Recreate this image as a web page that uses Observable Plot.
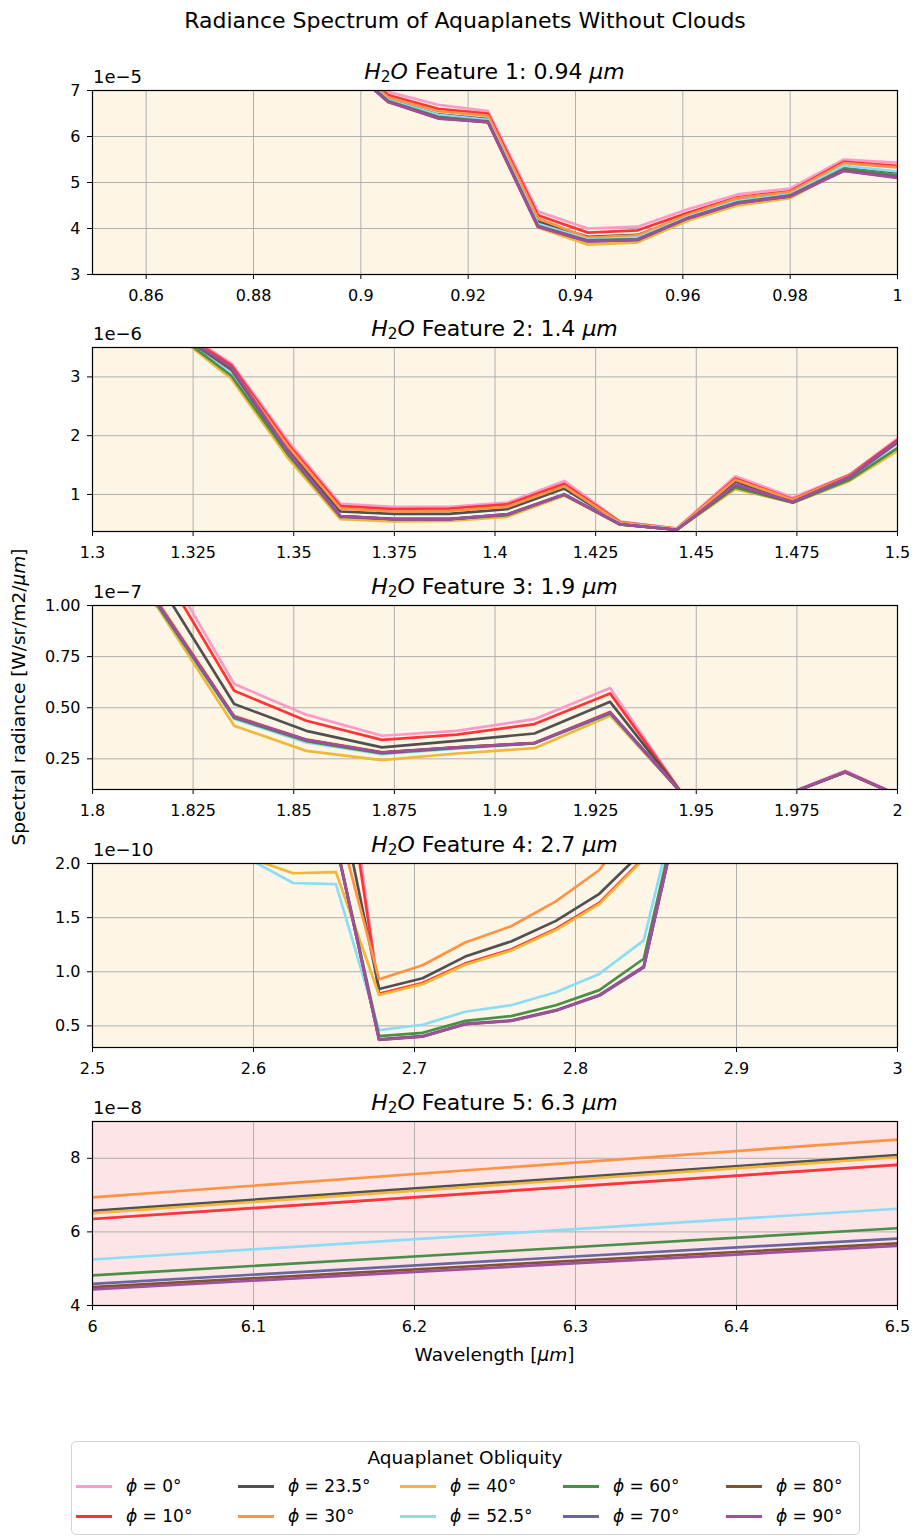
<!DOCTYPE html>
<html><head><meta charset="utf-8">
<script src="https://cdn.jsdelivr.net/npm/d3@7"></script>
<script src="https://cdn.jsdelivr.net/npm/@observablehq/plot@0.6"></script>
<style>
body{margin:0;background:#fff;font-family:"DejaVu Sans",sans-serif;color:#000;}
#root{position:relative;width:915px;height:1536px;overflow:hidden;}
.abs{position:absolute;white-space:nowrap;}
.ptitle{font-size:22px;transform:translate(-50%,-50%);}
.off{font-size:18px;}
sub{font-size:0.7em;vertical-align:-0.25em;line-height:0;}
</style></head><body><div id="root"></div>
<script>
// ---------- data ----------
const obliquities = [0, 10, 23.5, 30, 40, 52.5, 60, 70, 80, 90];
const lineColors = ["#ff9ac8", "#ff3535", "#505050", "#fe9345", "#f0b838", "#8cdcf5", "#4a8f48", "#6a66a4", "#7f5530", "#a04ea0"];

// Feature 1 (0.94 µm), values ×1e-5
const wave1 = [0.8958, 0.9051, 0.9144, 0.9237, 0.933, 0.9423, 0.9516, 0.9609, 0.9702, 0.980, 0.990, 1.0];
const feature1 = [
  [7.90, 6.97, 6.69, 6.55, 4.37, 4.00, 4.04, 4.42, 4.74, 4.87, 5.50, 5.43],
  [7.85, 6.90, 6.60, 6.50, 4.29, 3.91, 3.96, 4.34, 4.68, 4.81, 5.45, 5.36],
  [7.75, 6.80, 6.48, 6.38, 4.15, 3.82, 3.86, 4.27, 4.62, 4.76, 5.35, 5.22],
  [7.80, 6.85, 6.55, 6.45, 4.22, 3.80, 3.85, 4.30, 4.66, 4.79, 5.42, 5.33],
  [7.70, 6.76, 6.42, 6.30, 4.02, 3.65, 3.70, 4.17, 4.50, 4.66, 5.28, 5.15],
  [7.75, 6.79, 6.47, 6.36, 4.10, 3.76, 3.80, 4.25, 4.60, 4.74, 5.36, 5.24],
  [7.72, 6.77, 6.43, 6.33, 4.06, 3.74, 3.77, 4.23, 4.57, 4.72, 5.30, 5.16],
  [7.70, 6.76, 6.41, 6.32, 4.05, 3.73, 3.76, 4.22, 4.56, 4.71, 5.27, 5.12],
  [7.70, 6.75, 6.40, 6.31, 4.04, 3.72, 3.75, 4.22, 4.55, 4.70, 5.26, 5.11],
  [7.69, 6.75, 6.39, 6.31, 4.04, 3.72, 3.75, 4.22, 4.55, 4.70, 5.25, 5.10]
];

// Feature 2 (1.4 µm), values ×1e-6
const wave2 = [1.3204, 1.3345, 1.3488, 1.3616, 1.3749, 1.3886, 1.403, 1.4172, 1.4311, 1.4452, 1.4597, 1.474, 1.4881, 1.5];
const feature2 = [
  [3.85, 3.23, 1.89, 0.84, 0.79, 0.79, 0.86, 1.23, 0.54, 0.42, 1.31, 0.95, 1.34, 1.95],
  [3.83, 3.20, 1.84, 0.80, 0.75, 0.76, 0.83, 1.18, 0.53, 0.42, 1.27, 0.92, 1.33, 1.93],
  [3.80, 3.12, 1.75, 0.71, 0.67, 0.67, 0.75, 1.10, 0.51, 0.41, 1.22, 0.89, 1.31, 1.90],
  [3.82, 3.15, 1.80, 0.76, 0.71, 0.72, 0.79, 1.14, 0.52, 0.42, 1.25, 0.91, 1.32, 1.88],
  [3.73, 2.97, 1.60, 0.58, 0.54, 0.55, 0.62, 0.98, 0.49, 0.40, 1.09, 0.86, 1.23, 1.74],
  [3.76, 3.05, 1.68, 0.63, 0.59, 0.59, 0.66, 1.01, 0.50, 0.41, 1.13, 0.87, 1.26, 1.80],
  [3.75, 3.02, 1.66, 0.62, 0.58, 0.58, 0.65, 1.00, 0.49, 0.40, 1.12, 0.86, 1.25, 1.79],
  [3.78, 3.12, 1.70, 0.63, 0.58, 0.58, 0.66, 1.00, 0.49, 0.40, 1.16, 0.87, 1.29, 1.88],
  [3.78, 3.14, 1.71, 0.63, 0.58, 0.58, 0.66, 1.00, 0.49, 0.40, 1.16, 0.87, 1.30, 1.90],
  [3.79, 3.17, 1.71, 0.63, 0.58, 0.58, 0.66, 1.00, 0.49, 0.40, 1.17, 0.87, 1.30, 1.91]
];

// Feature 3 (1.9 µm), values ×1e-7
const wave3 = [1.798, 1.8162, 1.8352, 1.8531, 1.8719, 1.8905, 1.9098, 1.9286, 1.9465, 1.9665, 1.987, 2.005];
const feature3 = [
  [1.60, 1.26, 0.616, 0.466, 0.363, 0.387, 0.444, 0.596, 0.08, 0.03, 0.192, 0.03],
  [1.55, 1.21, 0.583, 0.436, 0.343, 0.368, 0.420, 0.570, 0.08, 0.03, 0.188, 0.03],
  [1.45, 1.12, 0.518, 0.387, 0.306, 0.338, 0.374, 0.529, 0.08, 0.03, 0.186, 0.03],
  [1.35, 1.02, 0.460, 0.345, 0.283, 0.306, 0.328, 0.480, 0.08, 0.03, 0.185, 0.03],
  [1.30, 0.99, 0.412, 0.289, 0.244, 0.276, 0.302, 0.461, 0.08, 0.03, 0.183, 0.03],
  [1.33, 1.00, 0.445, 0.330, 0.273, 0.300, 0.325, 0.470, 0.08, 0.03, 0.184, 0.03],
  [1.33, 1.00, 0.450, 0.337, 0.277, 0.303, 0.326, 0.472, 0.08, 0.03, 0.184, 0.03],
  [1.34, 1.01, 0.455, 0.342, 0.280, 0.305, 0.327, 0.476, 0.08, 0.03, 0.185, 0.03],
  [1.34, 1.01, 0.456, 0.343, 0.281, 0.306, 0.327, 0.477, 0.08, 0.03, 0.185, 0.03],
  [1.34, 1.01, 0.456, 0.343, 0.281, 0.306, 0.327, 0.477, 0.08, 0.03, 0.186, 0.03]
];

// Feature 4 (2.7 µm), values ×1e-10
const wave4 = [2.5975, 2.6246, 2.6512, 2.678, 2.705, 2.7315, 2.760, 2.7878, 2.8148, 2.8424, 2.870];
const feature4 = [
  [3.60, 3.70, 3.74, 0.795, 0.895, 1.075, 1.205, 1.395, 1.635, 2.05, 3.10],
  [3.50, 3.50, 3.48, 0.795, 0.895, 1.075, 1.205, 1.395, 1.635, 2.05, 3.10],
  [2.80, 2.80, 2.77, 0.84, 0.94, 1.14, 1.28, 1.47, 1.72, 2.12, 3.20],
  [2.45, 2.45, 2.44, 0.93, 1.06, 1.27, 1.42, 1.65, 1.94, 2.50, 3.30],
  [2.05, 1.91, 1.92, 0.785, 0.885, 1.065, 1.195, 1.385, 1.625, 2.04, 3.10],
  [2.04, 1.82, 1.81, 0.46, 0.51, 0.63, 0.69, 0.81, 0.98, 1.29, 2.98],
  [2.20, 2.20, 2.20, 0.405, 0.436, 0.546, 0.59, 0.69, 0.83, 1.12, 2.90],
  [2.20, 2.20, 2.19, 0.375, 0.405, 0.52, 0.55, 0.645, 0.785, 1.05, 2.85],
  [2.20, 2.20, 2.19, 0.372, 0.402, 0.515, 0.548, 0.642, 0.78, 1.04, 2.85],
  [2.20, 2.20, 2.19, 0.37, 0.40, 0.515, 0.545, 0.64, 0.78, 1.04, 2.85]
];

// Feature 5 (6.3 µm), values ×1e-8
const wave5 = [6.0, 6.25, 6.5];
const feature5 = [
  [6.35, 7.09, 7.82],
  [6.35, 7.09, 7.82],
  [6.57, 7.33, 8.09],
  [6.94, 7.73, 8.51],
  [6.51, 7.27, 8.03],
  [5.25, 5.94, 6.63],
  [4.82, 5.46, 6.10],
  [4.59, 5.21, 5.82],
  [4.50, 5.10, 5.69],
  [4.44, 5.03, 5.62]
];

const xTicks1 = [0.86, 0.88, 0.9, 0.92, 0.94, 0.96, 0.98, 1];
const yTicks1 = [3, 4, 5, 6, 7];
const xTicks2 = [1.3, 1.325, 1.35, 1.375, 1.4, 1.425, 1.45, 1.475, 1.5];
const yTicks2 = [1, 2, 3];
const xTicks3 = [1.8, 1.825, 1.85, 1.875, 1.9, 1.925, 1.95, 1.975, 2];
const yTicks3 = [0.25, 0.5, 0.75, 1.0];
const xTicks4 = [2.5, 2.6, 2.7, 2.8, 2.9, 3];
const yTicks4 = [0.5, 1.0, 1.5, 2.0];
const xTicks5 = [6, 6.1, 6.2, 6.3, 6.4, 6.5];
const yTicks5 = [4, 6, 8];

const panelTitles = ["1: 0.94", "2: 1.4", "3: 1.9", "4: 2.7", "5: 6.3"];
const offsets = ["1e\u22125", "1e\u22126", "1e\u22127", "1e\u221210", "1e\u22128"];

// ---------- drawing ----------
const root = document.getElementById("root");
const L = 92, R = 897, MT = 20, MB = 30, PH = 184;
const panels = [
  {top: 90, wave: wave1, vals: feature1, xd: [0.85, 1.0], yd: [3, 7], xt: xTicks1, yt: yTicks1, yf: d => String(d), bg: "#fdf5e6"},
  {top: 347, wave: wave2, vals: feature2, xd: [1.3, 1.5], yd: [0.37, 3.5], xt: xTicks2, yt: yTicks2, yf: d => String(d), bg: "#fdf5e6"},
  {top: 605, wave: wave3, vals: feature3, xd: [1.8, 2.0], yd: [0.1, 1.0], xt: xTicks3, yt: yTicks3, yf: d3.format(".2f"), bg: "#fdf5e6"},
  {top: 863, wave: wave4, vals: feature4, xd: [2.5, 3.0], yd: [0.3, 2.0], xt: xTicks4, yt: yTicks4, yf: d3.format(".1f"), bg: "#fdf5e6"},
  {top: 1121, wave: wave5, vals: feature5, xd: [6.0, 6.5], yd: [4, 9], xt: xTicks5, yt: yTicks5, yf: d => String(d), bg: "#fde4e6"}
];

function addHTML(html, cls, left, top, extra) {
  const d = document.createElement("div");
  d.className = "abs " + (cls || "");
  d.style.left = left + "px";
  d.style.top = top + "px";
  if (extra) Object.assign(d.style, extra);
  d.innerHTML = html;
  root.appendChild(d);
  return d;
}

panels.forEach((p, i) => {
  const lineMarks = p.vals.map((vals, k) =>
    Plot.line(p.wave.map((w, j) => ({w, v: vals[j]})), {
      x: "w", y: "v", stroke: lineColors[k], strokeWidth: 2.7, clip: true
    })
  );
  const svg = Plot.plot({
    width: 915, height: PH + MT + MB,
    marginLeft: L, marginRight: 915 - R, marginTop: MT, marginBottom: MB,
    style: {fontFamily: "DejaVu Sans", fontSize: "16px", color: "black", background: "transparent", overflow: "visible"},
    x: {domain: p.xd, ticks: p.xt, tickFormat: d => String(d), tickSize: 5, tickPadding: 10, label: null},
    y: {domain: p.yd, ticks: p.yt, tickFormat: p.yf, tickSize: 5, tickPadding: 7, label: null},
    marks: [
      Plot.frame({fill: p.bg, stroke: null}),
      Plot.ruleX(p.xt, {stroke: "#b0b0b0", strokeWidth: 1}),
      Plot.ruleY(p.yt, {stroke: "#b0b0b0", strokeWidth: 1}),
      ...lineMarks,
      Plot.frame({stroke: "black", strokeWidth: 1.2})
    ]
  });
  svg.style.position = "absolute";
  svg.style.left = "0px";
  svg.style.top = (p.top - MT) + "px";
  root.appendChild(svg);
  addHTML(`<i>H</i><sub>2</sub><i>O</i> Feature ${panelTitles[i]} <i>μm</i>`, "ptitle", (L + R) / 2, p.top - 19);
  addHTML(offsets[i], "off", L + 1, p.top - 24);
});

addHTML("Radiance Spectrum of Aquaplanets Without Clouds", "ptitle", 465, 20);
addHTML("Spectral radiance [W/sr/m2/<i>μm</i>]", "", 18, 697,
  {fontSize: "18.5px", transform: "translate(-50%,-50%) rotate(-90deg)"});
addHTML("Wavelength [<i>μm</i>]", "", (L + R) / 2, 1354,
  {fontSize: "18.5px", transform: "translate(-50%,-50%)"});

// legend
addHTML("", "", 71, 1441, {width: "787px", height: "92px", border: "1.5px solid #d4d4d4", borderRadius: "5px", background: "#fff"});
addHTML("Aquaplanet Obliquity", "", 465, 1457, {fontSize: "18.5px", transform: "translate(-50%,-50%)"});
const colX = [76, 238, 400, 563, 726];
const rowY = [1486, 1516];
obliquities.forEach((o, k) => {
  const c = Math.floor(k / 2), r = k % 2;
  addHTML("", "", colX[c], rowY[r] - 1.5, {width: "36px", height: "3px", background: lineColors[k]});
  addHTML(`<i>ϕ</i> = ${o}°`, "", colX[c] + 50, rowY[r], {fontSize: "17px", transform: "translateY(-50%)"});
});
</script></body></html>
